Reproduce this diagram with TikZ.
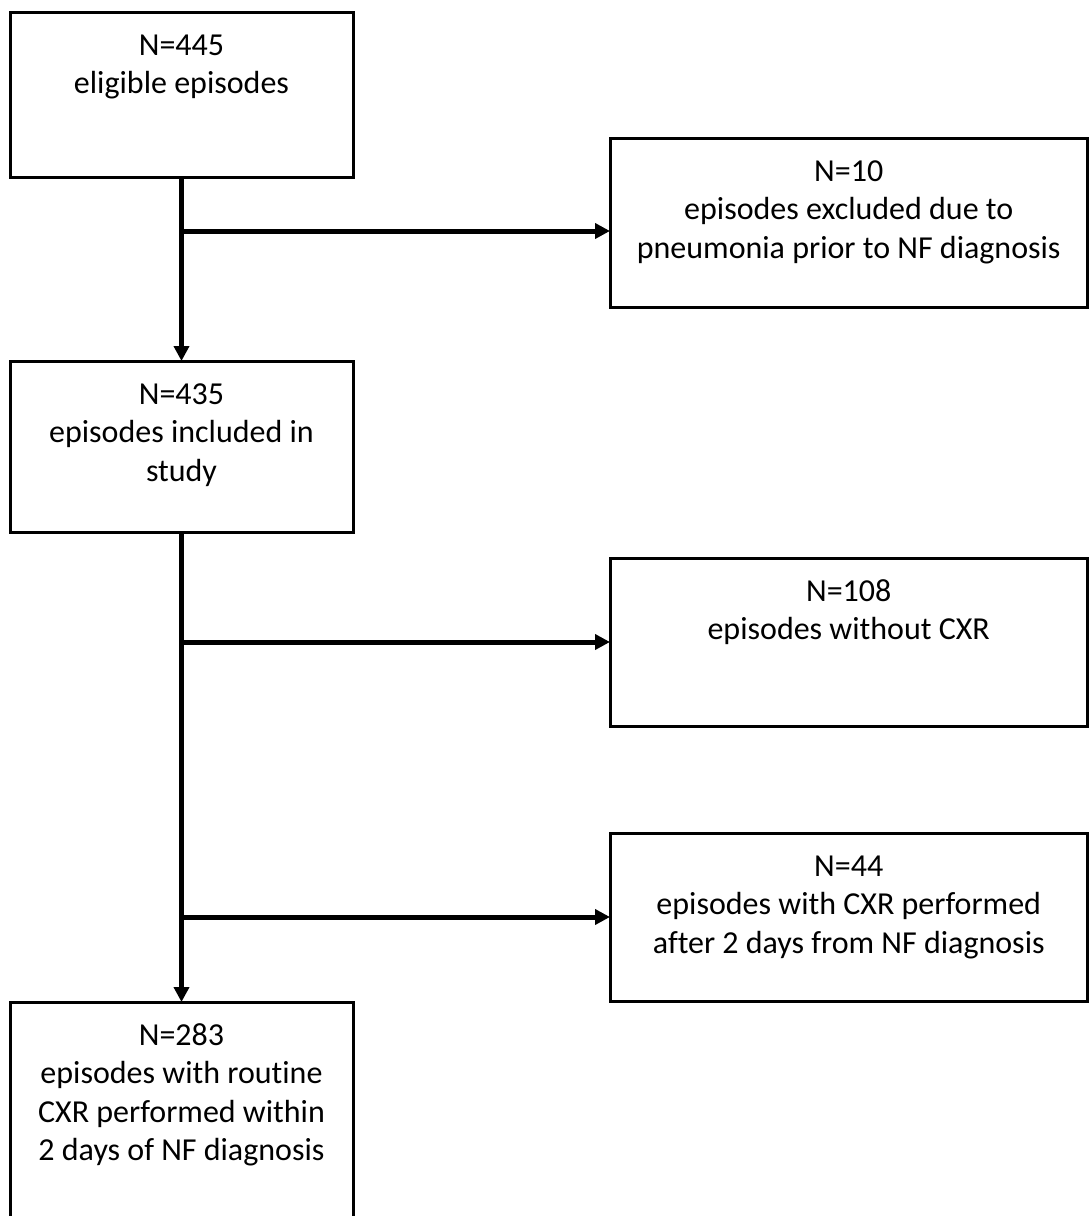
\documentclass[tikz,border=0pt]{standalone}
\usepackage{fontspec}
\setmainfont{Carlito}[Ligatures=NoCommon]
\usetikzlibrary{arrows.meta}
\newcommand\flowtext[3]{\parbox[c][#1][t]{#2}{\centering\fontsize{32pt}{38.5pt}\selectfont\rule{0pt}{43pt}#3\par}}
\tikzset{
  flowbox/.style={draw=black, line width=3pt, inner sep=0pt, outer sep=0pt, anchor=north west},
  flowline/.style={line width=5pt, draw=black},
  flowarrow/.style={flowline, -{Triangle[width=15pt,length=15pt]}},
}
\begin{document}
\begin{tikzpicture}[x=1pt,y=-1pt]
\useasboundingbox (0,0) rectangle (1089,1216);
\clip (0,0) rectangle (1089,1216);
\node[flowbox] (b1) at (10,12)   {\flowtext{165pt}{343pt}{N=445\\eligible episodes}};
\node[flowbox] (b2) at (610,138) {\flowtext{169pt}{477.5pt}{N=10\\episodes excluded due to\\pneumonia prior to NF diagnosis}};
\node[flowbox] (b3) at (10,361)  {\flowtext{171pt}{343pt}{N=435\\episodes included in\\study}};
\node[flowbox] (b4) at (610,558) {\flowtext{168pt}{477.5pt}{N=108\\episodes without CXR}};
\node[flowbox] (b5) at (610,833) {\flowtext{168pt}{477.5pt}{N=44\\episodes with CXR performed\\after 2 days from NF diagnosis}};
\node[flowbox] (b6) at (10,1002) {\flowtext{228pt}{343pt}{N=283\\episodes with routine\\CXR performed within\\2 days of NF diagnosis}};
\coordinate (j1) at (b1.south |- 0,231);
\coordinate (j2) at (b3.south |- 0,642);
\coordinate (j3) at (b3.south |- 0,917);
\draw[flowarrow] (b1.south) -- (b3.north);
\draw[flowarrow] (j1) -- (j1 -| b2.west);
\draw[flowarrow] (b3.south) -- (b6.north);
\draw[flowarrow] (j2) -- (j2 -| b4.west);
\draw[flowarrow] (j3) -- (j3 -| b5.west);
\end{tikzpicture}
\end{document}
